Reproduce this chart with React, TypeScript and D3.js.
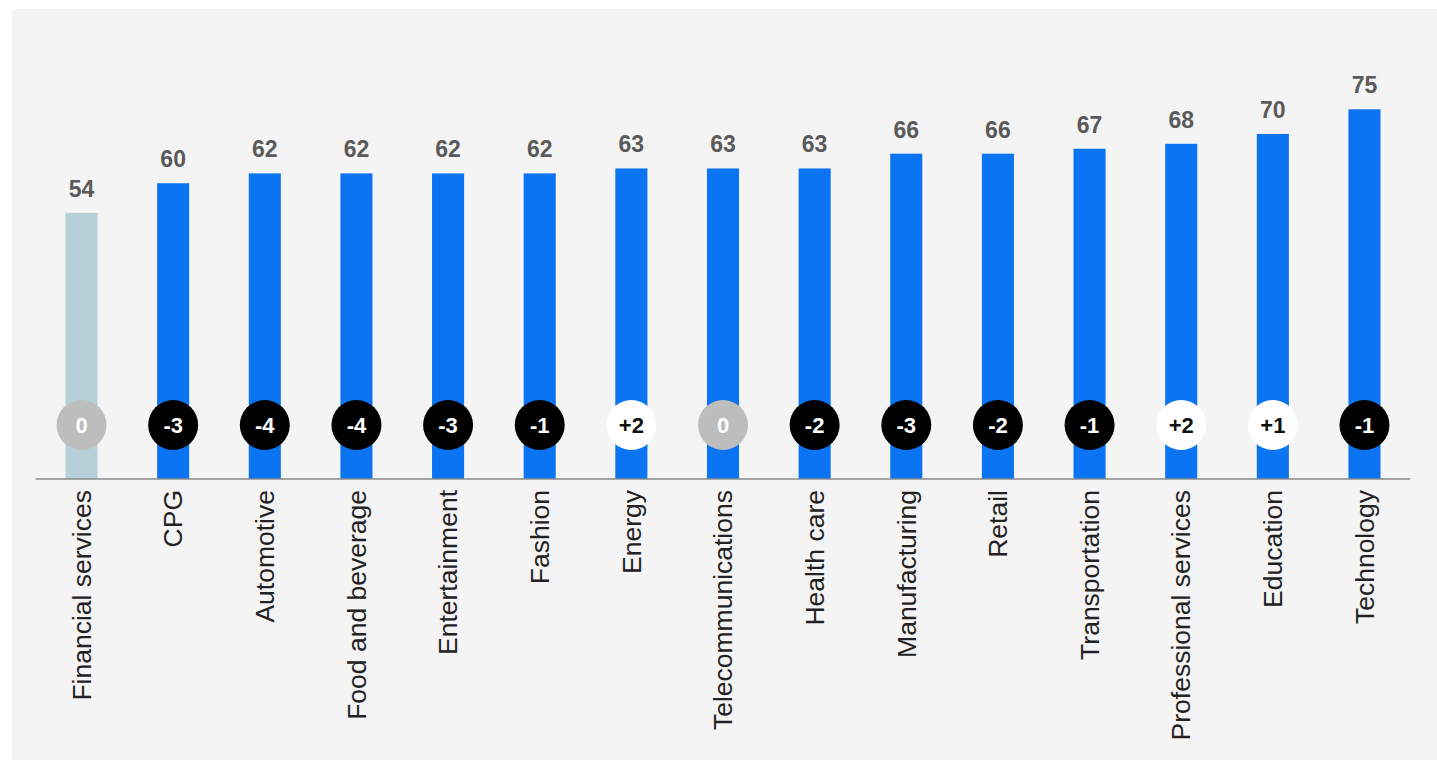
import React from "react";
import * as d3 from "d3";

const categories = [
  "Financial services", "CPG", "Automotive", "Food and beverage", "Entertainment",
  "Fashion", "Energy", "Telecommunications", "Health care", "Manufacturing",
  "Retail", "Transportation", "Professional services", "Education", "Technology",
];
const values = [54, 60, 62, 62, 62, 62, 63, 63, 63, 66, 66, 67, 68, 70, 75];
const changes = [0, -3, -4, -4, -3, -1, 2, 0, -2, -3, -2, -1, 2, 1, -1];
const highlighted = ["Financial services"];

const W = 1437;
const H = 760;

export default function App() {
  const x = d3.scaleBand<string>()
    .domain(categories)
    .range([35.7, 1410.3])
    .paddingInner(0.65)
    .paddingOuter(0.325);
  const y = d3.scaleLinear().domain([0, 75]).range([479, 109.3]);
  const bw = x.bandwidth();
  const circleY = 425;
  const font = "'Liberation Sans', Arial, Helvetica, sans-serif";

  const fmt = (v: number) => (v > 0 ? `+${v}` : `${v}`);

  return (
    <div style={{ position: "absolute", left: 0, top: 0, width: W, height: H, background: "#ffffff" }}>
      <svg width={W} height={H} style={{ display: "block" }} fontFamily={font}>
        <rect x={12} y={9} width={W - 12} height={H - 9} fill="#f4f4f4" />
        {categories.map((c, i) => {
          const cx = (x(c) as number) + bw / 2;
          const v = values[i];
          const ch = changes[i];
          const isHi = highlighted.includes(c);
          const circFill = ch === 0 ? "#bdbdbd" : ch < 0 ? "#000000" : "#ffffff";
          const circText = ch > 0 ? "#111111" : "#ffffff";
          return (
            <g key={c}>
              <rect
                x={x(c)}
                y={y(v)}
                width={bw}
                height={y(0) - y(v)}
                fill={isHi ? "#b7cfd8" : "#0a74f2"}
              />
              <text
                x={cx}
                y={y(v) - 16}
                textAnchor="middle"
                fontSize={23}
                fontWeight="bold"
                fill="#5a5a5a"
              >
                {v}
              </text>
              <circle cx={cx} cy={circleY} r={25} fill={circFill} />
              <text
                x={cx}
                y={circleY}
                dy="0.36em"
                textAnchor="middle"
                fontSize={22}
                fontWeight="bold"
                fill={circText}
              >
                {fmt(ch)}
              </text>
              <text
                transform={`translate(${cx},490) rotate(-90)`}
                textAnchor="end"
                dy="0.35em"
                fontSize={26.5}
                fill="#222222"
              >
                {c}
              </text>
            </g>
          );
        })}
        <line x1={35.7} x2={1410.3} y1={479} y2={479} stroke="#8a8a8a" strokeWidth={1.5} />
      </svg>
    </div>
  );
}
